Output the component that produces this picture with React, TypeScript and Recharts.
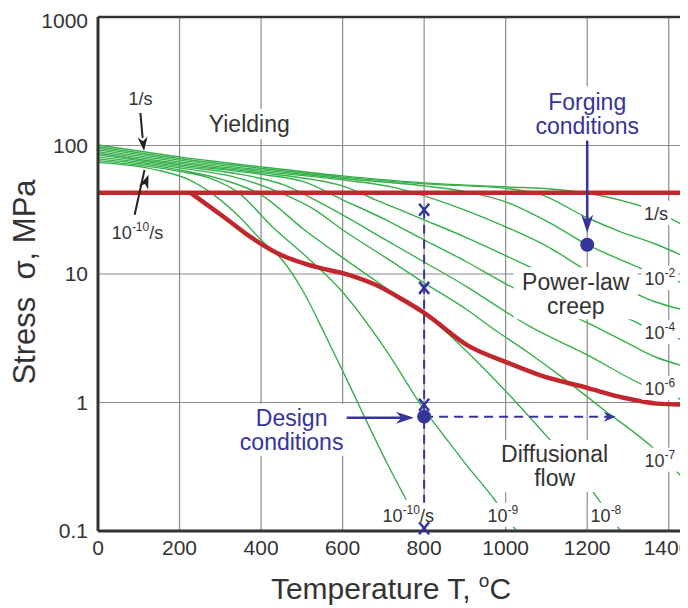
import React from 'react';
import { ComposedChart, Line, XAxis, YAxis, CartesianGrid, ReferenceLine, ReferenceDot, Label } from 'recharts';

type Pt = [number, number];

const FONT = '"Liberation Sans", Arial, sans-serif';
const GREEN = '#36b04a';
const RED = '#c1272d';
const BLUE = '#34349b';
const TEXT = '#333';

const xTicks = [0, 200, 400, 600, 800, 1000, 1200, 1400];
const yTicks = [0.1, 1, 10, 100, 1000];

// strain-rate contours, temperature (C) vs stress (MPa)
const rate1s: Pt[] = [[0, 101], [200, 81.6], [400, 68.2], [600, 58.0], [800, 51.2], [1000, 47.7], [1133, 45.2], [1234, 40.6], [1306, 35.8], [1366, 31.0], [1434, 24.1]];
const rate1e1: Pt[] = [[0, 97.9], [200, 79.2], [400, 66.4], [600, 56.7], [800, 50.3], [1000, 46.4], [1082, 42.0], [1200, 27.4], [1282, 21.3], [1366, 17.2], [1434, 13.9]];
const rate1e2: Pt[] = [[0, 95.1], [200, 77.0], [400, 64.6], [600, 55.4], [800, 48.5], [905, 43.6], [1000, 36.4], [1108, 25.0], [1200, 16.9], [1282, 12.9], [1366, 10.0], [1434, 8.54]];
const rate1e3: Pt[] = [[0, 92.4], [200, 74.6], [400, 62.9], [600, 54.0], [731, 46.8], [800, 40.6], [905, 31.0], [1000, 23.3], [1108, 16.0], [1200, 10.6], [1282, 7.95], [1366, 6.08], [1434, 5.27]];
const rate1e4: Pt[] = [[0, 89.7], [200, 72.6], [400, 61.2], [532, 54.0], [600, 48.5], [681, 37.8], [800, 26.4], [905, 19.1], [1000, 13.9], [1108, 9.51], [1200, 6.53], [1282, 4.82], [1366, 3.62], [1434, 3.08]];
const rate1e5: Pt[] = [[0, 87.0], [200, 70.7], [400, 59.6], [506, 52.1], [600, 37.8], [706, 26.4], [800, 18.4], [905, 12.4], [1000, 8.39], [1108, 5.76], [1210, 4.03], [1306, 2.82], [1366, 2.27], [1434, 1.93]];
const rate1e6: Pt[] = [[0, 84.5], [200, 68.8], [357, 59.1], [456, 49.4], [532, 37.8], [600, 28.9], [706, 18.4], [800, 12.4], [905, 7.95], [1000, 5.08], [1056, 3.96], [1200, 2.35], [1337, 1.37], [1434, 1.05]];
const rate1e7: Pt[] = [[0, 81.6], [200, 66.9], [333, 57.0], [448, 42.8], [532, 31.6], [600, 22.1], [706, 13.4], [800, 8.54], [905, 5.27], [973, 3.68], [1056, 2.44], [1133, 1.62], [1234, 0.911], [1366, 0.43], [1434, 0.26]];
const rate1e8: Pt[] = [[0, 78.7], [200, 64.6], [308, 54.0], [400, 41.3], [506, 22.1], [600, 13.4], [706, 7.81], [805, 4.82], [930, 2.08], [1031, 0.962], [1108, 0.514], [1210, 0.21], [1282, 0.1]];
const rate1e9: Pt[] = [[0, 76.3], [200, 62.9], [272, 56.0], [345, 42.8], [430, 22.9], [514, 13.4], [595, 7.54], [706, 2.57], [800, 0.879], [843, 0.582], [905, 0.323], [973, 0.175], [1026, 0.1]];
const rate1e10: Pt[] = [[0, 73.9], [143, 64.6], [224, 54.0], [284, 41.3], [349, 27.4], [400, 18.4], [456, 12.4], [501, 7.54], [557, 3.37], [607, 1.59], [657, 0.735], [711, 0.328], [756, 0.175]];

const contours = [rate1s, rate1e1, rate1e2, rate1e3, rate1e4, rate1e5, rate1e6, rate1e7, rate1e8, rate1e9, rate1e10];

// field boundaries
const yieldBoundary: Pt[] = [[0, 42.8], [1435, 42.8]];
const creepBoundary: Pt[] = [[227, 42.8], [308, 27.9], [373, 19.5], [448, 14.1], [532, 11.4], [615, 9.86], [681, 8.24], [748, 6.3], [800, 4.99], [912, 2.72], [998, 2.08], [1082, 1.64], [1200, 1.3], [1289, 1.09], [1371, 0.98], [1434, 0.962]];

// design / forging points
const designPoint: Pt = [800, 0.776];
const forgingPoint: Pt = [1200, 16.9];
const crossMarks: Pt[] = [[800, 31.6], [800, 7.8], [800, 0.96], [800, 0.105]];
const designDropLine: Pt[] = [[800, 31.6], [800, 0.1]];
const designRunLine: Pt[] = [[800, 0.776], [1250, 0.776]];
const designArrow: Pt[] = [[587, 0.76], [744, 0.76]];
const forgingArrow: Pt[] = [[1200, 109], [1200, 26.2]];
const fastArrow: Pt[] = [[104, 179], [109.5, 114.5]];
const slowArrow: Pt[] = [[90, 28.9], [114, 64.4]];

const rateLabelsRight = [
  { T: 1369, s: 29.9, base: '1/s', exp: '', tail: '', w: 30 },
  { T: 1378, s: 9.34, base: '10', exp: '-2', tail: '', w: 36 },
  { T: 1378, s: 3.55, base: '10', exp: '-4', tail: '', w: 36 },
  { T: 1378, s: 1.3, base: '10', exp: '-6', tail: '', w: 36 },
  { T: 1378, s: 0.359, base: '10', exp: '-7', tail: '', w: 36 },
];
const rateLabelsBottom = [
  { T: 761, s: 0.134, base: '10', exp: '-10', tail: '/s', w: 56 },
  { T: 993, s: 0.134, base: '10', exp: '-9', tail: '', w: 36 },
  { T: 1246, s: 0.134, base: '10', exp: '-8', tail: '', w: 36 },
];

const rows = (pts: Pt[]) => pts.map(([T, s]) => ({ T, s }));

const rateLabel = (base: string, exp: string, tail: string, w: number, box = true) => (p: any) => (
  <g>
    {box && <rect x={p.cx - w / 2} y={p.cy - 12} width={w} height={24} fill="#fff" />}
    <text x={p.cx} y={p.cy + 7} textAnchor="middle" fontSize={18} fill={TEXT} fontFamily={FONT}>
      {base}
      {exp && <tspan dy={-8} fontSize={12}>{exp}</tspan>}
      {tail && <tspan dy={8}>{tail}</tspan>}
    </text>
  </g>
);

const blockLabel = (lines: string[], color: string, w: number, h: number, size = 23) => (p: any) => (
  <g>
    <rect x={p.cx - w / 2} y={p.cy - h / 2} width={w} height={h} fill="#fff" />
    {lines.map((l, i) => (
      <text key={i} x={p.cx} y={p.cy + (i - (lines.length - 1) / 2) * 24 + size * 0.36} textAnchor="middle" fontSize={size} fill={color} fontFamily={FONT}>
        {l}
      </text>
    ))}
  </g>
);

const arrowHead = (angle: number, len: number, half: number, color: string) => (p: any) => (
  <polygon
    points={`${p.cx},${p.cy} ${p.cx - len},${p.cy - half} ${p.cx - len * 0.7},${p.cy} ${p.cx - len},${p.cy + half}`}
    fill={color}
    transform={`rotate(${angle} ${p.cx} ${p.cy})`}
  />
);

const crossShape = (p: any) => (
  <g stroke={BLUE} strokeWidth={2.5}>
    <line x1={p.cx - 5} y1={p.cy - 6} x2={p.cx + 5} y2={p.cy + 6} />
    <line x1={p.cx + 5} y1={p.cy - 6} x2={p.cx - 5} y2={p.cy + 6} />
  </g>
);

const segment = (pts: Pt[], color: string, width: number, dash?: string, key?: string) => (
  <Line key={key} data={rows(pts)} dataKey="s" type="linear" stroke={color} strokeWidth={width} strokeDasharray={dash} dot={false} activeDot={false} isAnimationActive={false} />
);

export default function App() {
  return (
    <div>
      <style>{'html,body{overflow:hidden}'}</style>
      <ComposedChart width={680} height={600} margin={{ top: 9, right: 5, left: 0, bottom: 0 }} style={{ fontFamily: FONT }}>
        <CartesianGrid stroke="#8c8c8c" strokeWidth={1.2} />
        <XAxis
          dataKey="T"
          type="number"
          domain={[0, 1435]}
          ticks={xTicks}
          allowDataOverflow
          height={77}
          tickLine={false}
          tickSize={0}
          tickMargin={9}
          axisLine={{ stroke: '#333', strokeWidth: 3 }}
          tick={{ fill: TEXT, fontSize: 21, fontFamily: FONT }}
        >
          <Label
            content={() => (
              <text x={383} y={591} textAnchor="middle" fontSize={30} fill={TEXT} fontFamily={FONT}>
                Temperature T,{'\u00a0'}
                <tspan dy={-12} fontSize={19}>o</tspan>
                <tspan dy={12}>C</tspan>
              </text>
            )}
          />
        </XAxis>
        <YAxis
          type="number"
          scale="log"
          domain={[0.1, 1000]}
          ticks={yTicks}
          allowDataOverflow
          width={90}
          tickLine={false}
          tickSize={0}
          tickMargin={10}
          axisLine={{ stroke: '#333', strokeWidth: 3 }}
          tick={{ fill: TEXT, fontSize: 21, fontFamily: FONT }}
          tickFormatter={(v: number) => String(v)}
        >
          <Label
            content={() => (
              <text x={27} y={274} textAnchor="middle" fontSize={31} fill={TEXT} fontFamily={FONT} transform="rotate(-90 27 274)">
                {'Stress\u00a0\u00a0σ, MPa'}
              </text>
            )}
          />
        </YAxis>
        <YAxis
          yAxisId="frame"
          orientation="right"
          type="number"
          scale="log"
          domain={[0.1, 1000]}
          width={0}
          tick={false}
          tickLine={false}
          axisLine={{ stroke: '#333', strokeWidth: 5 }}
        />
        <ReferenceLine y={1000} stroke="#333" strokeWidth={2.5} />

        {contours.map((c, i) => (
          <Line key={`c${i}`} data={rows(c)} dataKey="s" type="monotone" stroke={GREEN} strokeWidth={1.4} dot={false} activeDot={false} isAnimationActive={false} />
        ))}
        {segment(yieldBoundary, RED, 4.5, undefined, 'yb')}
        <Line key="cb" data={rows(creepBoundary)} dataKey="s" type="monotone" stroke={RED} strokeWidth={4.5} dot={false} activeDot={false} isAnimationActive={false} />

        {segment(designDropLine, BLUE, 2, '9 6', 'dd')}
        {segment(designRunLine, BLUE, 2, '9 6', 'dr')}
        {segment(designArrow, BLUE, 2.5, undefined, 'da')}
        {segment(forgingArrow, BLUE, 2.5, undefined, 'fa')}
        {segment(fastArrow, '#222', 2, undefined, 'ka')}
        {segment(slowArrow, '#222', 2, undefined, 'sa')}

        {rateLabelsRight.map((l, i) => (
          <ReferenceDot key={`rr${i}`} x={l.T} y={l.s} shape={rateLabel(l.base, l.exp, l.tail, l.w)} />
        ))}
        {rateLabelsBottom.map((l, i) => (
          <ReferenceDot key={`rb${i}`} x={l.T} y={l.s} shape={rateLabel(l.base, l.exp, l.tail, l.w)} />
        ))}
        <ReferenceDot x={104} y={234} shape={rateLabel('1/s', '', '', 30, false)} />
        <ReferenceDot x={97} y={21.3} shape={rateLabel('10', '-10', '/s', 56, false)} />

        <ReferenceDot x={371} y={147} shape={blockLabel(['Yielding'], TEXT, 96, 30, 23)} />
        <ReferenceDot x={1172} y={7.08} shape={blockLabel(['Power-law', 'creep'], TEXT, 124, 52)} />
        <ReferenceDot x={1120} y={0.32} shape={blockLabel(['Diffusional', 'flow'], TEXT, 120, 52)} />
        <ReferenceDot x={1200} y={178} shape={blockLabel(['Forging', 'conditions'], BLUE, 118, 54)} />
        <ReferenceDot x={475} y={0.614} shape={blockLabel(['Design', 'conditions'], BLUE, 110, 52)} />

        {crossMarks.map(([T, s], i) => (
          <ReferenceDot key={`x${i}`} x={T} y={s} shape={crossShape} />
        ))}
        <ReferenceDot x={designPoint[0]} y={designPoint[1]} r={7} fill={BLUE} stroke="none" />
        <ReferenceDot x={forgingPoint[0]} y={forgingPoint[1]} r={7} fill={BLUE} stroke="none" />

        <ReferenceDot x={1200} y={20.9} shape={arrowHead(90, 18, 6, BLUE)} />
        <ReferenceDot x={775} y={0.76} shape={arrowHead(0, 18, 6, BLUE)} />
        <ReferenceDot x={1270} y={0.776} shape={arrowHead(0, 12, 5, BLUE)} />
        <ReferenceDot x={113} y={90.8} shape={arrowHead(84, 14, 5, '#222')} />
        <ReferenceDot x={124} y={59.1} shape={arrowHead(-69, 14, 5, '#222')} />
      </ComposedChart>
    </div>
  );
}
